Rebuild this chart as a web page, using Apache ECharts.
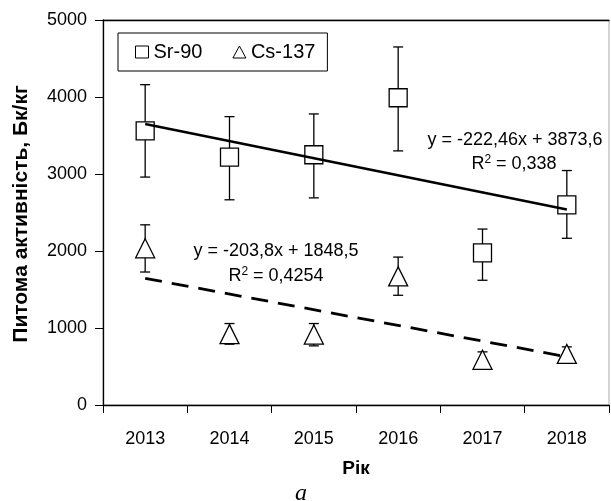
<!DOCTYPE html>
<html>
<head>
<meta charset="utf-8">
<script src="https://cdn.jsdelivr.net/npm/echarts@6/dist/echarts.min.js"></script>
<style>html,body{margin:0;padding:0;background:#fff}#c{width:611px;height:501px}</style>
</head>
<body>
<div id="c"></div>
<script>
const years = ['2013', '2014', '2015', '2016', '2017', '2018'];
const srValues = [3560, 3220, 3250, 3990, 1975, 2600];
const srHigh = [4160, 3745, 3780, 4650, 2285, 3045];
const srLow = [2960, 2665, 2690, 3300, 1620, 2165];
const csValues = [2035, 920, 915, 1670, 587, 663];
const csHigh = [2340, 1058, 1058, 1921, 690, 755];
const csLow = [1727, 790, 768, 1425, 484, 560];
const srTrend = [3650, 2540];   // trend line at 2013 and 2018
const csTrend = [1645, 626];
const srEquation = 'y = -222,46x + 3873,6';
const srR2 = ' = 0,338';
const csEquation = 'y = -203,8x + 1848,5';
const csR2 = ' = 0,4254';
const yTitle = 'Питома активність, Бк/кг';
const xTitle = 'Рік';
const yMin = 0, yMax = 5000, yStep = 1000;

const FONT = 'Liberation Sans, Arial, sans-serif';

function errRender(params, api) {
  const x = api.value(0);
  const hi = api.coord([x, api.value(1)]);
  const lo = api.coord([x, api.value(2)]);
  const w = 5;
  const st = { stroke: '#000', lineWidth: 1.3 };
  return {
    type: 'group',
    children: [
      { type: 'line', shape: { x1: hi[0], y1: hi[1], x2: lo[0], y2: lo[1] }, style: st },
      { type: 'line', shape: { x1: hi[0] - w, y1: hi[1], x2: hi[0] + w, y2: hi[1] }, style: st },
      { type: 'line', shape: { x1: lo[0] - w, y1: lo[1], x2: lo[0] + w, y2: lo[1] }, style: st }
    ]
  };
}

const chart = echarts.init(document.getElementById('c'), null, { renderer: 'canvas' });
const markerStyle = { color: '#fff', borderColor: '#000', borderWidth: 1.3, opacity: 1 };
const r2Rich = {
  a: { fontSize: 18, fontFamily: FONT, color: '#000' },
  s: { fontSize: 12, fontFamily: FONT, color: '#000', padding: [0, 0, 8, 0] }
};

chart.setOption({
  animation: false,
  backgroundColor: '#fff',
  grid: { left: 103, right: 2, top: 20, bottom: 96, show: true, borderColor: '#aaa', borderWidth: 1, containLabel: false },
  legend: {
    left: 118, top: 33,
    padding: [9, 12, 9, 17],
    borderColor: '#000', borderWidth: 1,
    itemWidth: 13, itemHeight: 12, itemGap: 30,
    textStyle: { fontSize: 20, fontFamily: FONT, color: '#000' },
    itemStyle: { color: '#fff', borderColor: '#000', borderWidth: 1 },
    data: [{ name: 'Sr-90', icon: 'rect' }, { name: 'Cs-137', icon: 'triangle' }]
  },
  xAxis: [{
    type: 'category', data: years, boundaryGap: true, position: 'bottom',
    axisLine: { lineStyle: { color: '#000', width: 1.3 } },
    axisTick: { show: true, length: 8, inside: false, lineStyle: { color: '#000', width: 1 } },
    axisLabel: { fontSize: 18, fontFamily: FONT, color: '#000', margin: 25 },
    name: xTitle, nameLocation: 'middle', nameGap: 54,
    nameTextStyle: { fontSize: 19, fontWeight: 'bold', fontFamily: FONT, color: '#000' },
    splitLine: { show: false }
  }, {
    type: 'category', data: years, position: 'top', boundaryGap: true,
    axisLine: { show: true, lineStyle: { color: '#000', width: 1.3 } },
    axisTick: { show: false }, axisLabel: { show: false }, splitLine: { show: false }
  }],
  yAxis: {
    type: 'value', min: yMin, max: yMax, interval: yStep,
    axisLine: { show: true, lineStyle: { color: '#000', width: 1.3 } },
    axisTick: { show: true, length: 8, lineStyle: { color: '#000', width: 1 } },
    axisLabel: { fontSize: 18, fontFamily: FONT, color: '#000', margin: 16, formatter: v => String(v) },
    splitLine: { show: false }
  },
  series: [
    {
      type: 'custom', name: 'srErr', renderItem: errRender, z: 1,
      encode: { x: 0, y: [1, 2] },
      data: years.map((y, i) => [i, srHigh[i], srLow[i]])
    },
    {
      type: 'custom', name: 'csErr', renderItem: errRender, z: 1,
      encode: { x: 0, y: [1, 2] },
      data: years.map((y, i) => [i, csHigh[i], csLow[i]])
    },
    {
      type: 'scatter', name: 'Sr-90', symbol: 'rect', symbolSize: 18, z: 2,
      itemStyle: markerStyle, data: srValues
    },
    {
      type: 'scatter', name: 'Cs-137', symbol: 'triangle', symbolSize: [19, 19], z: 2,
      itemStyle: markerStyle, data: csValues
    },
    {
      type: 'line', name: 'srTrend', symbol: 'none', z: 3, silent: true,
      lineStyle: { color: '#000', width: 2.6 },
      data: [[0, srTrend[0]], [years.length - 1, srTrend[1]]]
    },
    {
      type: 'line', name: 'csTrend', symbol: 'none', z: 3, silent: true,
      lineStyle: { color: '#000', width: 2.8, type: [17, 10] },
      data: [[0, csTrend[0]], [years.length - 1, csTrend[1]]]
    }
  ],
  graphic: [
    { type: 'text', x: 21, y: 214, rotation: Math.PI / 2, style: { text: yTitle, fontSize: 21, fontWeight: 'bold', fontFamily: FONT, fill: '#000', align: 'center', verticalAlign: 'middle' } },
    { type: 'text', x: 515, y: 140, style: { text: srEquation, fontSize: 18, fontFamily: FONT, fill: '#000', align: 'center', verticalAlign: 'middle' } },
    { type: 'text', x: 514, y: 164, style: { text: '{a|R}{s|2}{a|' + srR2 + '}', rich: r2Rich, align: 'center', verticalAlign: 'middle' } },
    { type: 'text', x: 276, y: 251, style: { text: csEquation, fontSize: 18, fontFamily: FONT, fill: '#000', align: 'center', verticalAlign: 'middle' } },
    { type: 'text', x: 276, y: 276, style: { text: '{a|R}{s|2}{a|' + csR2 + '}', rich: r2Rich, align: 'center', verticalAlign: 'middle' } },
    { type: 'text', x: 301, y: 494, style: { text: 'a', fontSize: 24, fontStyle: 'italic', fontFamily: 'Liberation Serif, Times New Roman, serif', fill: '#000', align: 'center', verticalAlign: 'middle' } }
  ]
});
</script>
</body>
</html>
